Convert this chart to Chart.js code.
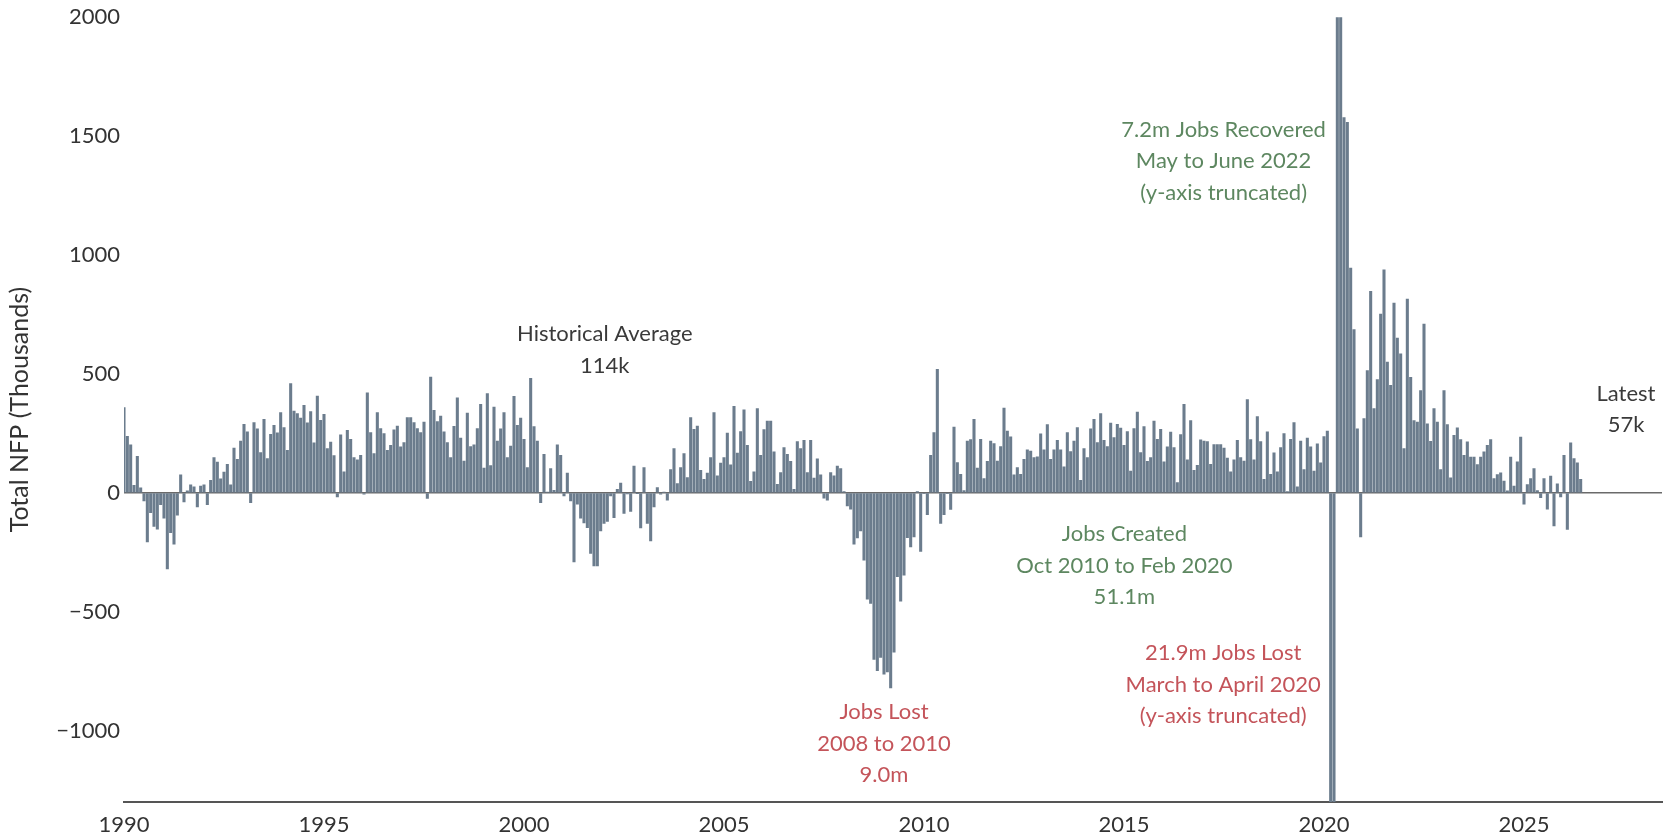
<!DOCTYPE html>
<html>
<head>
<meta charset="utf-8">
<script src="https://cdn.jsdelivr.net/npm/chart.js@4.4.1/dist/chart.umd.min.js"></script>
<style>
  html, body { margin: 0; padding: 0; background: #fff; }
  #wrap { width: 1676px; height: 839px; }
</style>
</head>
<body>
<div id="wrap"><canvas id="nfp" width="1676" height="839"></canvas></div>
<script>
// monthly change in nonfarm payrolls, thousands, from Jan 1990
const startYear = 1990;
const nfp1990s = [
  358, 238, 202, 32, 153, 21, -34, -206, -83, -141, -153, -50,
  -106, -320, -167, -216, -94, 76, -38, 8, 34, 25, -59, 28,
  34, -50, 53, 148, 129, 59, 87, 120, 34, 188, 141, 218,
  288, 256, -41, 295, 269, 169, 309, 144, 246, 284, 252, 337,
  274, 179, 459, 344, 333, 314, 368, 294, 342, 210, 407, 305,
  330, 186, 213, 157, -17, 244, 88, 263, 225, 148, 139, 158,
  -6, 420, 253, 165, 337, 270, 249, 179, 200, 265, 281, 193,
  211, 316, 316, 295, 270, 253, 297, -24, 487, 347, 300, 323,
  256, 211, 148, 280, 400, 230, 134, 335, 195, 202, 270, 372,
  104, 417, 115, 361, 218, 269, 337, 148, 197, 406, 284, 314
];
const nfp2000s = [
  225, 106, 482, 279, 218, -41, 162, 3, 102, 11, 202, 158,
  -13, 83, -34, -290, -48, -106, -127, -146, -255, -307, -307, -160,
  -129, -120, -13, -104, 15, 41, -87, -5, -78, 112, -2, -148,
  106, -129, -202, -59, 22, -6, 2, -31, 98, 186, 39, 106,
  165, 64, 316, 267, 281, 95, 57, 83, 148, 337, 71, 125,
  148, 251, 118, 364, 167, 258, 349, 200, 48, 88, 354, 158,
  266, 302, 302, 172, 36, 85, 190, 162, 132, 15, 216, 186,
  221, 85, 221, 62, 143, 76, -22, -31, 85, 71, 113, 102,
  5, -55, -69, -216, -190, -160, -283, -447, -465, -700, -748, -692,
  -762, -753, -820, -670, -353, -456, -346, -188, -227, -185, 5, -246
];
const nfp2010s = [
  -3, -92, 158, 253, 519, -129, -92, -3, -70, 277, 127, 78,
  10, 218, 224, 309, 104, 225, 60, 132, 218, 207, 134, 195,
  356, 260, 235, 76, 106, 78, 141, 181, 176, 148, 151, 248,
  181, 287, 141, 181, 221, 181, 109, 253, 174, 218, 274, 53,
  186, 148, 269, 309, 211, 333, 221, 195, 293, 232, 288, 272,
  200, 258, 92, 270, 340, 169, 279, 132, 148, 302, 225, 267,
  130, 193, 255, 190, 43, 245, 372, 139, 304, 95, 116, 223,
  218, 216, 120, 203, 203, 203, 188, 146, 88, 139, 221, 148,
  134, 392, 224, 139, 321, 216, 57, 256, 78, 168, 88, 190,
  249, 5, 225, 295, 25, 218, 98, 230, 193, 92, 206, 126
];
const nfp2020s = [
  237, 260, -1373, -20477, 2725, 4505, 1578, 1558, 945, 686, 269, -185,
  312, 514, 847, 354, 476, 752, 938, 550, 452, 798, 651, 584,
  186, 815, 486, 304, 298, 430, 710, 290, 217, 354, 298, 98,
  430, 287, 63, 242, 273, 224, 158, 214, 150, 150, 119, 150,
  172, 200, 224, 60, 77, 84, 49, 8, 150, 28, 130, 234,
  -48, 35, 60, 102, 10, -20, 60, -69, 70, -139, 38, -17,
  158, -154, 210, 144, 126, 57
];
const yearTicks = [1990, 1995, 2000, 2005, 2010, 2015, 2020, 2025];
const valueTicks = [-1000, -500, 0, 500, 1000, 1500, 2000];

const notes = [
  { lines: ["Historical Average", "114k"], x: 2002.02, y: 667, color: "#3a3a3a" },
  { lines: ["Jobs Lost", "2008 to 2010", "9.0m"], x: 2009.0, y: -923, color: "#c4545a" },
  { lines: ["Jobs Created", "Oct 2010 to Feb 2020", "51.1m"], x: 2015.01, y: -174, color: "#5d8760" },
  { lines: ["21.9m Jobs Lost", "March to April 2020", "(y-axis truncated)"], x: 2017.48, y: -675, color: "#c4545a" },
  { lines: ["7.2m Jobs Recovered", "May to June 2022", "(y-axis truncated)"], x: 2017.49, y: 1528, color: "#5d8760" },
  { lines: ["Latest", "57k"], x: 2027.55, y: 417, color: "#3a3a3a" }
];

const allValues = [...nfp1990s, ...nfp2000s, ...nfp2010s, ...nfp2020s];
const points = allValues.map((v, i) => ({ x: startYear + i / 12, y: v }));

const notePlugin = {
  id: "notes",
  afterDatasetsDraw(chart) {
    const { ctx, scales } = chart;
    ctx.save();
    ctx.font = "22px Lato";
    ctx.textAlign = "center";
    ctx.textBaseline = "middle";
    notes.forEach(n => {
      const px = scales.x.getPixelForValue(n.x);
      const py = scales.y.getPixelForValue(n.y);
      ctx.fillStyle = n.color;
      n.lines.forEach((t, k) => ctx.fillText(t, px, py + k * 31.5));
    });
    ctx.restore();
  }
};

new Chart(document.getElementById("nfp"), {
  type: "bar",
  data: {
    datasets: [{
      data: points,
      backgroundColor: "#6b7c8d",
      borderWidth: 0,
      barThickness: 2.4,
      grouped: false
    }]
  },
  options: {
    responsive: false,
    animation: false,
    devicePixelRatio: 1,
    layout: { padding: { top: 16, right: 14, left: 0, bottom: 0 } },
    plugins: { legend: { display: false }, tooltip: { enabled: false } },
    scales: {
      x: {
        type: "linear",
        offset: false,
        min: 1990,
        max: 2028.45,
        afterBuildTicks: s => { s.ticks = yearTicks.map(v => ({ value: v })); },
        afterFit: s => { s.height = 37; },
        grid: { display: false, drawTicks: false, offset: false },
        border: { display: true, color: "#555", width: 2 },
        ticks: {
          padding: 10,
          color: "#333",
          font: { family: "Lato", size: 22 },
          callback: v => String(v),
          maxRotation: 0,
          autoSkip: false
        }
      },
      y: {
        min: -1300,
        max: 2000,
        afterBuildTicks: s => { s.ticks = valueTicks.map(v => ({ value: v })); },
        afterFit: s => { s.width = 124; },
        border: { display: false },
        grid: {
          drawTicks: false,
          color: c => (c.tick && c.tick.value === 0 ? "#6a6a6a" : "transparent"),
          lineWidth: 1.5
        },
        title: {
          display: true,
          text: "Total NFP (Thousands)",
          color: "#333",
          font: { family: "Lato", size: 25 },
          padding: { top: 5, bottom: 0 }
        },
        ticks: {
          padding: 4,
          color: "#333",
          font: { family: "Lato", size: 22 },
          callback: v => (v < 0 ? "\u2212" + Math.abs(v) : String(v))
        }
      }
    }
  },
  plugins: [notePlugin]
});
</script>
</body>
</html>
